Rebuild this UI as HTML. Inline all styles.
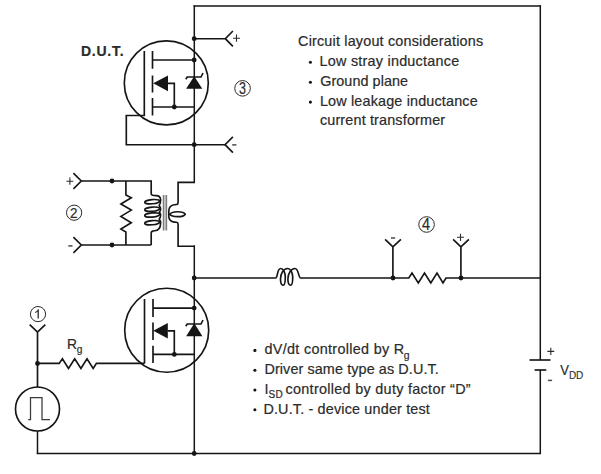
<!DOCTYPE html>
<html>
<head>
<meta charset="utf-8">
<style>
html,body{margin:0;padding:0;background:#fff;}
body{width:601px;height:474px;overflow:hidden;}
svg{display:block;}
text{font-family:"Liberation Sans",sans-serif;fill:#2b2b2b;stroke:#2b2b2b;stroke-width:0.2px;}
.w{stroke:#151515;stroke-width:1.65;fill:none;stroke-linecap:butt;stroke-linejoin:miter;}
.v{stroke:#151515;stroke-width:1.5;fill:none;}
.d{fill:#151515;stroke:none;}
.t{font-size:14.4px;}
.n{stroke:#2b2b2b;stroke-width:1;fill:none;}
.s{stroke:#2b2b2b;stroke-width:1.1;fill:none;}
.m{stroke:#4a4a4a;stroke-width:1.5;fill:none;}
</style>
</head>
<body>
<svg width="601" height="474" viewBox="0 0 601 474">
<rect width="601" height="474" fill="#fff"/>

<!-- outer loop -->
<path class="v" d="M194.3,183.1 V5.2 M540.3,5.2 V360 M540.3,370 V454.1 M37.5,431 V454.1"/>
<path class="w" d="M193.55,6 H541.05 M36.75,453.5 H541.05"/>
<path class="w" d="M529.5,360 H550.5"/>
<path class="w" d="M534.6,370 H546.3"/>
<path class="w" d="M194,278 H275.6 C277.8,278 277,268.5 280.6,268.5 C283.4,268.5 285.3,272.5 285.3,277 C285.3,282 284.4,285.2 283.1,285.2 C281.5,285.2 280.5,282.5 280.5,279 C280.5,273.5 283.5,268.5 287.6,268.5 C290.6,268.5 292.7,272.5 292.7,277.5 C292.7,282 291.9,285.2 290.6,285.2 C289,285.2 287.9,282.5 287.9,279 C287.9,273.5 291,268.5 295,268.5 C298.8,268.5 298.3,278 300.6,278 H408.8 L412,273.1 L418.3,282.9 L424.5,273.1 L430.8,282.9 L437,273.1 L443,282.9 L446,278 H540.3"/>
<path class="v" d="M194.3,245.4 V453.5"/>

<!-- top MOSFET -->
<circle class="w" cx="166.3" cy="82.9" r="42"/>
<path class="w" d="M144.3,51 V115.5 H126.3 V144.7 H225"/>
<path class="w" d="M152.5,51 V68.7 M152.5,75.5 V92.5 M152.5,98 V115.5"/>
<path class="w" d="M152.5,60 H194 M152.5,107 H194 M168,83.3 H174.3 V107"/>
<path class="d" d="M153.2,83.3 L168,75.5 V91.2 Z"/>
<path class="d" d="M194.2,76.3 L186.1,88.8 H202.3 Z"/>
<path class="w" d="M185.8,79.3 L187.2,77 H201 L203,73"/>
<circle class="d" cx="194.2" cy="38.7" r="2.4"/>
<circle class="d" cx="194.2" cy="60" r="2.4"/>
<circle class="d" cx="174.3" cy="107" r="2.4"/>
<circle class="d" cx="194.2" cy="144.7" r="2.4"/>
<path class="w" d="M194,38.7 H225.3 M232.9,31 L225.3,38.7 L232.9,46.4"/>
<path class="w" d="M232.9,136.8 L225,144.7 L232.9,152.6"/>

<!-- transformer -->
<path class="w" d="M195,182.3 H178.1 V202.4 Q178.1,204.3 176.3,204.5 L174.5,204.7 C171,205.1 168.8,207.5 168.8,211 V216 C168.8,219.5 171,221.7 174.5,222.1 L176.3,222.3 Q178.1,222.5 178.1,224.3 V246.2 H195"/>
<path class="w" d="M169.8,214.2 C172,211.2 183,210.6 185.2,214.2 C183,217.8 172,217.2 169.8,214.2 Z"/>
<path d="M163.6,195 V230.6 M166.3,195 V230.6" stroke="#7c7c7c" stroke-width="1.7" fill="none"/>
<path class="w" d="M81.3,181 H151.2 V193.8 C151.2,195.6 153,195.6 156,195.6 C159,195.6 160.6,197.5 160.6,200 Q160.6,203.5 159.2,205.5 Q160.6,207 160.6,209 Q160.6,211 159.4,212.2 Q160.6,213.5 160.6,215 Q160.6,217.5 159.2,219 Q160.6,220.5 160.6,223 C160.6,228 158,230.6 154.5,230.8 C152,230.9 151.2,231.6 151.2,233 V245"/>
<ellipse class="w" cx="152.2" cy="201.7" rx="7.5" ry="2.1" transform="rotate(-5 152.2 201.7)"/>
<ellipse class="w" cx="152.2" cy="209.2" rx="7.5" ry="2.1" transform="rotate(-5 152.2 209.2)"/>
<ellipse class="w" cx="152.2" cy="215" rx="7.5" ry="2.1" transform="rotate(-5 152.2 215)"/>
<ellipse class="w" cx="152.2" cy="222.7" rx="7.5" ry="2.1" transform="rotate(-5 152.2 222.7)"/>
<path class="w" d="M81.3,245 H151.2"/>
<path class="w" d="M125.9,181 V194.9 L131.3,197.8 L120.9,204 L131.3,210.1 L120.9,216.4 L131.3,222.7 L120.9,229.1 L125.9,232 V245"/>
<circle class="d" cx="112" cy="181" r="2.4"/>
<circle class="d" cx="112" cy="245" r="2.4"/>
<path class="w" d="M73.4,173.2 L81.3,181 L73.4,188.8"/>
<path class="w" d="M73.4,237.2 L81.3,245 L73.4,252.8"/>

<!-- bottom MOSFET -->
<circle class="w" cx="166.7" cy="330.2" r="42"/>
<path class="w" d="M144.5,299 V363.5"/>
<path class="w" d="M153,299 V317 M153,322.5 V340 M153,345.7 V363"/>
<path class="w" d="M153,308.1 H194 M153,354.4 H194 M167.5,330.8 H174.3 V354.4"/>
<path class="d" d="M153.3,330.8 L167.8,323 V338.6 Z"/>
<path class="d" d="M194.3,323.3 L186.2,336.3 H202.4 Z"/>
<path class="w" d="M185.8,326.3 L187.2,324 H201 L203,320"/>
<circle class="d" cx="194.2" cy="278" r="2.4"/>
<circle class="d" cx="194.2" cy="308.1" r="2.4"/>
<circle class="d" cx="174.3" cy="354.4" r="2.4"/>
<circle class="d" cx="194.2" cy="453.5" r="2.4"/>

<!-- gate drive -->
<path class="w" d="M37.5,387 V332 M29.7,324.7 L37.5,332 L45.3,324.7"/>
<path class="w" d="M37.5,363.4 H59.2 L62.4,358.7 L68.5,368.5 L74.7,358.7 L80.9,368.5 L87,358.7 L93.2,368.5 L96.4,363.4 H144.5"/>
<circle class="d" cx="37.5" cy="363.5" r="2.4"/>
<circle class="w" cx="37.5" cy="409" r="22"/>
<path d="M28.2,419.7 H30.5 V397.7 H42 V419.7 H50" fill="none" stroke="#3a3a3a" stroke-width="1.25"/>

<!-- terminals 4 -->
<path class="w" d="M392.9,278 V246.8 M385.1,239.3 L392.9,246.8 L400.9,239.3"/>
<path class="w" d="M460.9,278 V246.8 M453.1,239.3 L460.9,246.8 L468.9,239.3"/>
<circle class="d" cx="393" cy="278" r="2.4"/>
<circle class="d" cx="461" cy="278" r="2.4"/>

<!-- circled numbers -->
<g style="stroke-width:0">
<circle class="n" cx="242.55" cy="88.35" r="7.8"/>
<text transform="translate(242.5,94.1) scale(0.8,1)" text-anchor="middle" font-size="15.6">3</text>
<circle class="n" cx="74.1" cy="212.7" r="7.6"/>
<text transform="translate(73.8,217.9) scale(0.94,1)" text-anchor="middle" font-size="14.3">2</text>
<circle class="n" cx="38" cy="314.1" r="7.6"/>
<path d="M38,309.2 H38.9 V318.5 H37.55 V311.8 Q36.4,312.6 35.1,313 V312 Q37,311.1 38,309.2 Z" fill="#333" stroke="none"/>
<circle class="n" cx="426.55" cy="224.5" r="7.8"/>
<text transform="translate(426,230) scale(0.93,1)" text-anchor="middle" font-size="15.6">4</text>
</g>

<!-- plus/minus -->
<path class="s" d="M233.05,38.2 H239.95 M236.5,34.60 V41.80"/>
<path class="m" d="M232.20,144.9 H236.40"/>
<path class="s" d="M66.45,181.2 H73.35 M69.9,177.60 V184.80"/>
<path class="m" d="M68.30,245.9 H72.50"/>
<path class="m" d="M391.00,238.0 H395.20"/>
<path class="s" d="M457.05,237.3 H463.95 M460.5,233.70 V240.90"/>
<path class="s" d="M547.35,351.4 H554.25 M550.8,347.80 V355.00"/>
<path class="m" d="M547.90,380.4 H552.10"/>

<!-- labels -->
<text id="DUT" x="81.00" y="55.6" font-size="14" font-weight="bold" fill="#1c1c1c" textLength="42.52">D.U.T.</text>
<text id="RG" x="66.9" y="348.5" font-size="13.8">R<tspan font-size="10.2" dy="4.5">g</tspan></text>
<text transform="translate(560.2,374.6) scale(0.92,1)" font-size="14.2">V</text><text x="568.9" y="379" font-size="10" style="stroke-width:0.1px">DD</text>

<!-- text block 1 -->
<text class="t" id="T1" x="298.05" y="46" textLength="185.05">Circuit layout considerations</text>
<circle class="d" cx="310.4" cy="62.2" r="1.55"/>
<text class="t" id="T2" x="319.60" y="65.8" textLength="139.56">Low stray inductance</text>
<circle class="d" cx="310.4" cy="82.2" r="1.55"/>
<text class="t" id="T3" x="320.20" y="85.8" textLength="87.83">Ground plane</text>
<circle class="d" cx="310.4" cy="102.1" r="1.55"/>
<text class="t" id="T4" x="319.90" y="105.9" textLength="157.82">Low leakage inductance</text>
<text class="t" id="T5" x="319.90" y="125.3" textLength="125.20">current transformer</text>

<!-- text block 2 -->
<circle class="d" cx="254.9" cy="350.4" r="1.55"/>
<text class="t" id="B1" x="264.50" y="354" textLength="144.91">dV/dt controlled by R<tspan font-size="10.4" dy="5.1" dx="-0.8">g</tspan></text>
<circle class="d" cx="254.9" cy="370.3" r="1.55"/>
<text class="t" id="B2" x="264.40" y="373.8" textLength="174.42">Driver same type as D.U.T.</text>
<circle class="d" cx="254.9" cy="390" r="1.55"/>
<text class="t" id="B3" x="264.40" y="393.7" textLength="206.27">I<tspan font-size="10" dy="4.5" dx="-0.2">SD</tspan><tspan dy="-4.5" dx="-1.8"> controlled by duty factor “D”</tspan></text>
<circle class="d" cx="254.9" cy="409.8" r="1.55"/>
<text class="t" id="B4" x="263.40" y="413.5" textLength="166.45">D.U.T. - device under test</text>
</svg>
</body>
</html>
